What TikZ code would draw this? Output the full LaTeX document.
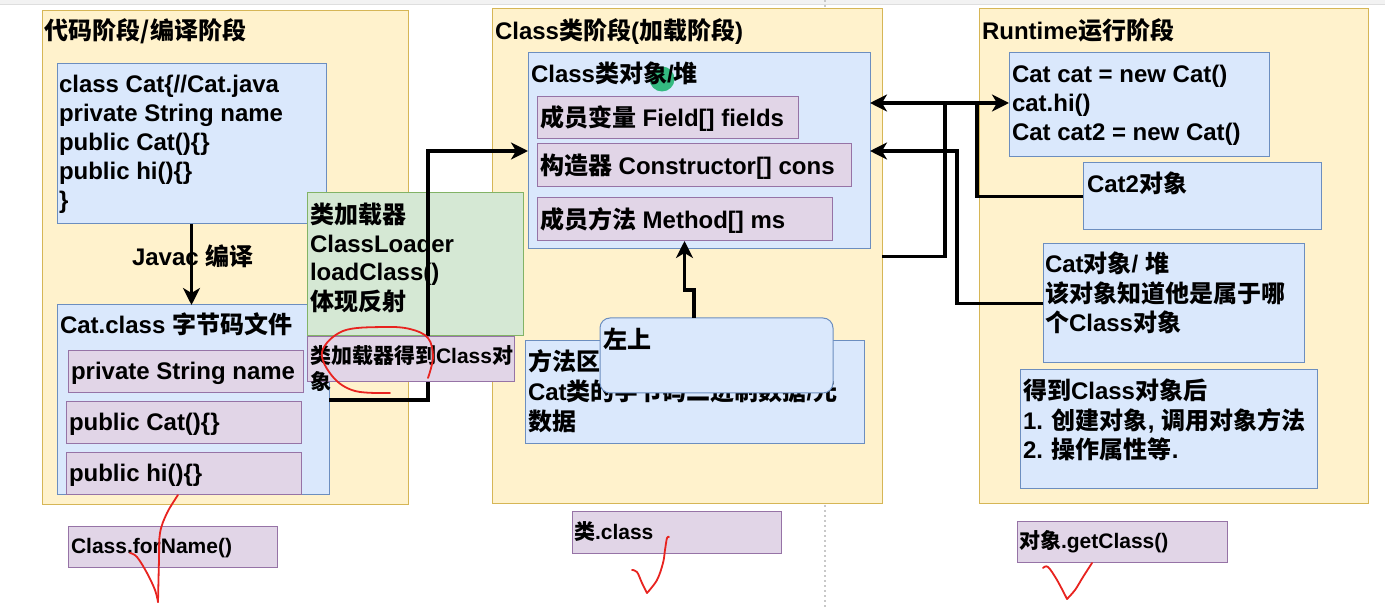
\documentclass[tikz,border=0pt]{standalone}
\usepackage{fontspec}
\setmainfont{Liberation Sans}
\newfontfamily\cjk{Noto Sans CJK SC}
\usetikzlibrary{arrows.meta,calc}
\newcommand\zh[1]{{\cjk #1}}
\newcommand\ml[1]{\begin{tabular}[t]{@{}l@{}}#1\end{tabular}}
\definecolor{panelfill}{HTML}{FFF2CC}
\definecolor{panelline}{HTML}{D6B656}
\definecolor{bluefill}{HTML}{DAE8FC}
\definecolor{blueline}{HTML}{6C8EBF}
\definecolor{pinkfill}{HTML}{E1D5E7}
\definecolor{pinkline}{HTML}{9673A6}
\definecolor{greenfill}{HTML}{D5E8D4}
\definecolor{greenline}{HTML}{82B366}
\definecolor{penred}{HTML}{E8231F}
\definecolor{dotgray}{HTML}{C8C8C8}
\definecolor{cursorgreen}{HTML}{22B573}
\begin{document}
\begin{tikzpicture}[x=1pt,y=-1pt,
  every node/.style={font=\fontsize{24}{29}\selectfont\bfseries, inner sep=0pt, outer sep=0pt},
  panel/.style={draw=panelline, fill=panelfill, line width=1pt, anchor=north west},
  bluebox/.style={draw=blueline, fill=bluefill, line width=1pt, anchor=north west},
  pinkbox/.style={draw=pinkline, fill=pinkfill, line width=1pt, anchor=north west},
  greenbox/.style={draw=greenline, fill=greenfill, line width=1pt, anchor=north west},
  txt/.style={anchor=base west},
  small/.style={font=\fontsize{21}{25}\selectfont\bfseries},
  conn/.style={line width=3.5pt, draw=black},
  tip/.style={-{Stealth[length=17pt,width=17pt,inset=5pt]}},
  both/.style={{Stealth[length=17pt,width=17pt,inset=5pt]}-{Stealth[length=17pt,width=17pt,inset=5pt]}},
  redmark/.style={draw=penred, line width=1.8pt, line cap=round, line join=round}
]
% canvas
\useasboundingbox (0,0) rectangle (1385,609);
\fill[white] (0,0) rectangle (1385,609);
\fill[black!5] (0,0) rectangle (1385,4);
\draw[black!13, line width=0.8pt] (0,4.2) -- (1385,4.2);
\draw[dotgray, line width=1.5pt, dash pattern=on 2pt off 3pt] (825,0) -- (825,609);

% panels
\node[panel, minimum width=366pt, minimum height=494pt] (P1) at (42,11) {};
\node[panel, minimum width=390pt, minimum height=495pt] (P2) at (492,9) {};
\node[panel, minimum width=389pt, minimum height=495pt] (P3) at (979,9) {};
\node[txt] (tP1) at (45,40) {\zh{代码阶段/编译阶段}};
\node[txt] (tP2) at (495,40) {Class\zh{类阶段}(\zh{加载阶段})};
\node[txt] (tP3) at (982,40) {Runtime\zh{运行阶段}};

% panel 1
\node[bluebox, minimum width=269pt, minimum height=160pt] (B1) at (57,64) {};
\node[txt] (tB1) at (59,93) {\ml{class Cat\{//Cat.java\\private String name\\public Cat()\{\}\\public hi()\{\}\\\}}};
\node[bluebox, minimum width=272pt, minimum height=190pt] (B2) at (57,305) {};
\node[txt] (tB2) at (60,334) {Cat.class \zh{字节码文件}};
\node[pinkbox, minimum width=235pt, minimum height=42pt] (k1) at (68,351) {};
\node[txt] (tk1) at (71,380) {private String name};
\node[pinkbox, minimum width=235pt, minimum height=42pt] (k2) at (66,402) {};
\node[txt] (tk2) at (69,431) {public Cat()\{\}};
\node[pinkbox, minimum width=235pt, minimum height=42pt] (k3) at (66,453) {};
\node[txt] (tk3) at (69,482) {public hi()\{\}};
\node[txt] (tJ) at (132,266) {Javac \zh{编译}};
\draw[conn, tip] (B1.south) -- (B1.south |- B2.north);

% class loader
\node[greenbox, minimum width=216pt, minimum height=143pt] (G) at (307,193) {};
\node[txt, font=\fontsize{24}{28.5}\selectfont\bfseries] (tG) at (310,224) {\ml{\zh{类加载器}\\ClassLoader\\loadClass()\\\zh{体现反射}}};

% panel 2
\node[bluebox, minimum width=342pt, minimum height=196pt] (CO) at (528,53) {};
\draw[conn, tip] (B2.east) -- ++(99,0) |- (CO.west);
\node[pinkbox, minimum width=207pt, minimum height=45pt] (kL) at (307,337) {};
\node[txt, small] (tL) at (310,364) {\ml{\zh{类加载器得到}Class\zh{对}\\\zh{象}}};

\fill[cursorgreen, opacity=0.9] (662,79) circle (12.5);
\node[txt] (tCO) at (531,83) {Class\zh{类对象}/\zh{堆}};
\node[pinkbox, minimum width=261pt, minimum height=42pt] (kF) at (537,97) {};
\node[txt] (tkF) at (540,127) {\zh{成员变量} Field[] fields};
\node[pinkbox, minimum width=314pt, minimum height=43pt] (kC) at (537,144) {};
\node[txt] (tkC) at (540,175) {\zh{构造器} Constructor[] cons};
\node[pinkbox, minimum width=295pt, minimum height=43pt] (kM) at (537,198) {};
\node[txt] (tkM) at (540,229) {\zh{成员方法} Method[] ms};

\node[bluebox, minimum width=339pt, minimum height=103pt] (MA) at (525,341) {};
\node[txt, font=\fontsize{24}{29.5}\selectfont\bfseries] (tMA) at (528,371) {\ml{\zh{方法区}\\Cat\zh{类的字节码二进制数据}/\zh{元}\\\zh{数据}}};
\node[bluebox, rounded corners=10pt, minimum width=233pt, minimum height=75pt] (ZS) at (600,318) {};
\node[txt] (tZS) at (603,349) {\zh{左上}};
\draw[conn, tip] ($(ZS.north west)+(94,0)$) -- ++(0,-28) -| (kM.south);

% panel 3
\node[bluebox, minimum width=260pt, minimum height=104pt] (R1) at (1009,53) {};
\node[txt] (tR1) at (1012,83) {\ml{Cat cat = new Cat()\\cat.hi()\\Cat cat2 = new Cat()}};
\node[bluebox, minimum width=238pt, minimum height=67pt] (R2) at (1083,163) {};
\node[txt] (tR2) at (1087,193) {Cat2\zh{对象}};
\node[bluebox, minimum width=261pt, minimum height=119pt] (R3) at (1043,244) {};
\node[txt] (tR3) at (1045,273) {\ml{Cat\zh{对象}/ \zh{堆}\\\zh{该对象知道他是属于哪}\\\zh{个}Class\zh{对象}}};
\node[bluebox, minimum width=297pt, minimum height=119pt] (R4) at (1020,370) {};
\node[txt, font=\fontsize{24}{28.5}\selectfont\bfseries] (tR4) at (1023,400) {\ml{\zh{得到}Class\zh{对象后}\\1. \zh{创建对象}, \zh{调用对象方法}\\2. \zh{操作属性等}.}};

% connectors between panel 2 and panel 3
\coordinate (j1) at ($(R1.west)+(-64,-2)$);
\coordinate (j2) at ($(R1.west)+(-32,-2)$);
\draw[conn, both] ($(CO.east |- R1.west)+(0,-2)$) -- ($(R1.west)+(0,-2)$);
\draw[conn] (P2.east) -| (j1);
\draw[conn] (R2.west) -| (j2);
\draw[conn, tip] (R3.west) -- ++(-86,0) |- (CO.east);

% bottom labels
\node[pinkbox, minimum width=209pt, minimum height=41pt] (L1) at (68,526) {};
\node[txt, small] (tL1) at (71,553) {Class.forName()};
\node[pinkbox, minimum width=209pt, minimum height=41pt] (L2) at (572,512) {};
\node[txt, small] (tL2) at (574,539) {\zh{类}.class};
\node[pinkbox, minimum width=210pt, minimum height=41pt] (L3) at (1017,521) {};
\node[txt, small] (tL3) at (1019,548) {\zh{对象}.getClass()};

% red handwritten marks
\draw[redmark] plot[smooth, tension=0.6] coordinates {(130,553) (137,557) (147,573) (155,590) (158,602)};
\draw[redmark] plot[smooth, tension=0.6] coordinates {(158,602) (159,560) (160,533) (167,513) (178,495)};
\draw[redmark] plot[smooth, tension=0.6] coordinates {(632,570) (637,572) (642,583) (647,593)};
\draw[redmark] plot[smooth, tension=0.6] coordinates {(647,593) (657,580) (663,563) (665,550) (667,538) (669,537)};
\draw[redmark] plot[smooth, tension=0.6] coordinates {(1043,568) (1048,567) (1057,580) (1067,599)};
\draw[redmark] plot[smooth, tension=0.6] coordinates {(1067,599) (1075,590) (1083,577) (1092,563)};
\draw[redmark] plot[smooth, tension=0.6] coordinates {(428,378) (433,357) (428,338) (410,329) (383,327) (343,331) (322,352) (333,377) (355,391) (390,393)};
\end{tikzpicture}
\end{document}
